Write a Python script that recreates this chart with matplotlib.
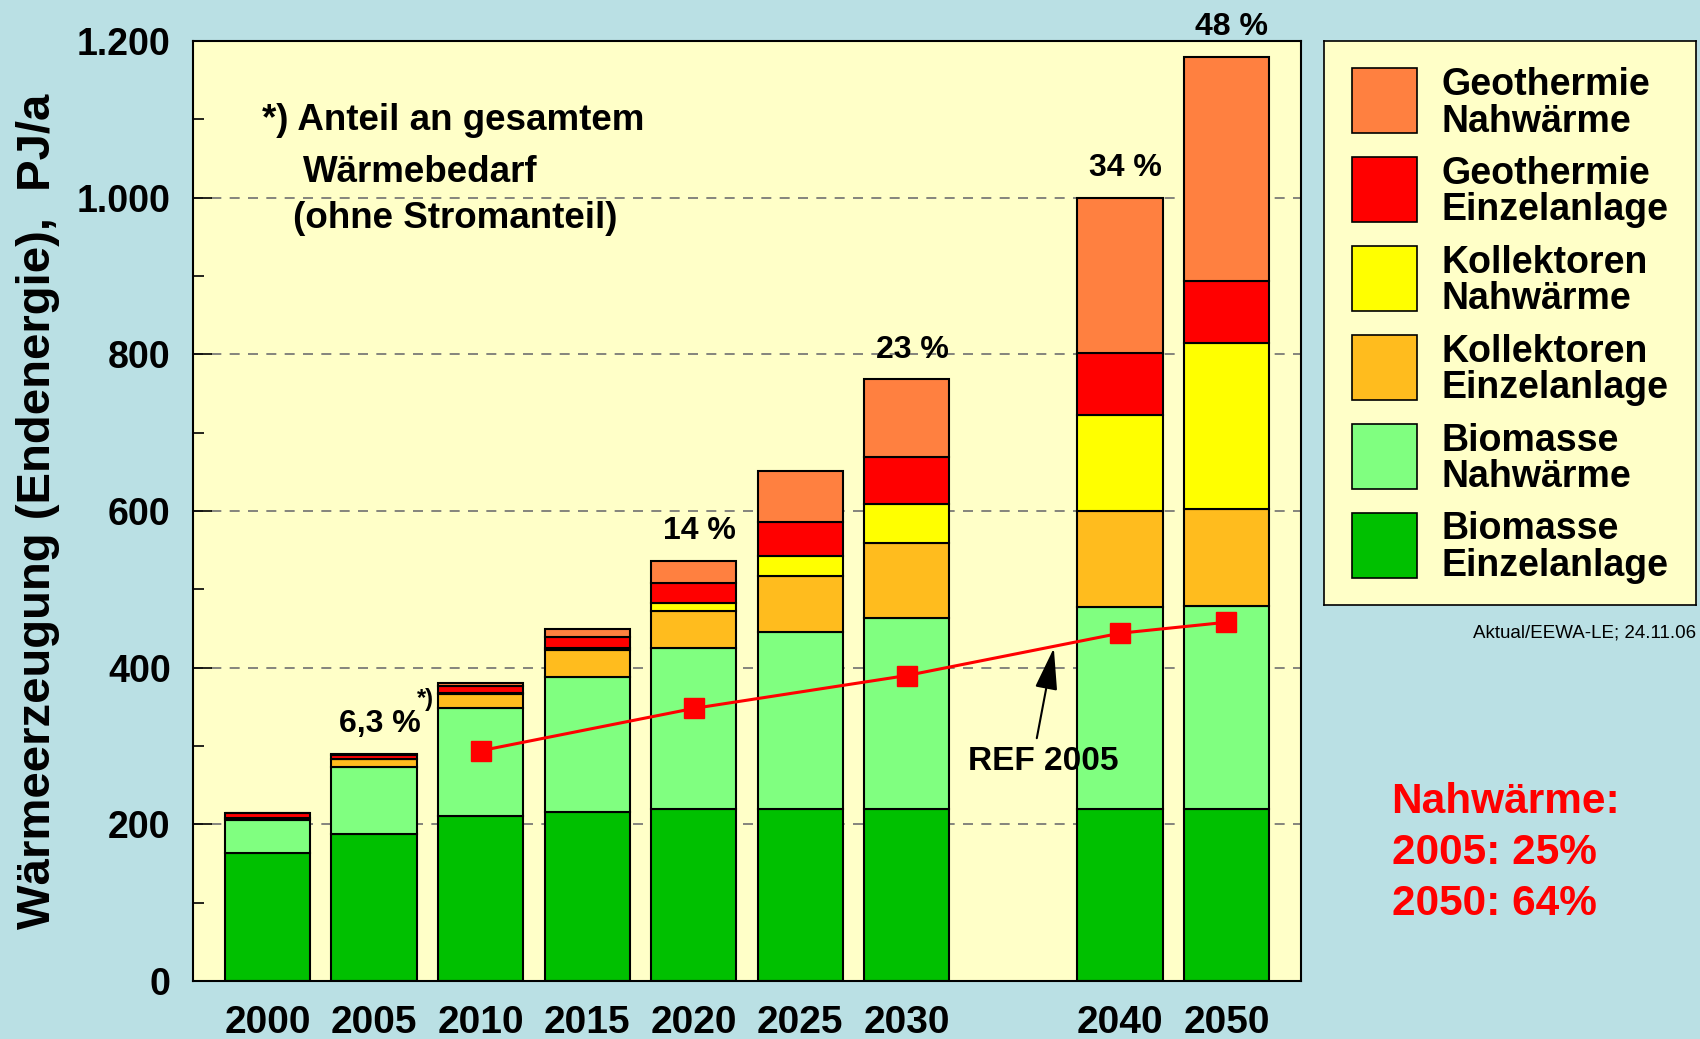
import matplotlib
matplotlib.use('Agg')
import matplotlib.pyplot as plt
from matplotlib.patches import Rectangle
from matplotlib.ticker import MultipleLocator

years = ['2000', '2005', '2010', '2015', '2020', '2025', '2030', '2040', '2050']
bio_einzel = [163, 188, 211, 216, 220, 220, 220, 220, 220]
bio_nah = [42, 85, 137, 172, 205, 225, 244, 257, 259]
koll_einzel = [3, 10, 19, 34, 48, 72, 95, 123, 123]
koll_nah = [0, 0, 1, 3, 10, 26, 50, 123, 213]
geo_einzel = [6, 6, 8, 14, 25, 43, 60, 79, 79]
geo_nah = [1, 1, 4, 11, 28, 65, 99, 198, 286]

series_names = ['Biomasse\nEinzelanlage', 'Biomasse\nNahwärme',
                'Kollektoren\nEinzelanlage', 'Kollektoren\nNahwärme',
                'Geothermie\nEinzelanlage', 'Geothermie\nNahwärme']
series_colors = ['#00C000', '#80FF80', '#FFBC1E', '#FFFF00', '#FF0000', '#FF8040']

ref_years = ['2010', '2020', '2030', '2040', '2050']
ref_values = [294, 348, 390, 444, 458]

share_years = ['2005', '2020', '2030', '2040', '2050']
share_labels = ['6,3 %', '14 %', '23 %', '34 %', '48 %']

y_ticks = [0, 200, 400, 600, 800, 1000, 1200]
y_ticklabels = ['0', '200', '400', '600', '800', '1.000', '1.200']

plt.rcParams['font.family'] = ['Liberation Sans', 'DejaVu Sans']
plt.rcParams['font.weight'] = 'bold'

fig = plt.figure(figsize=(17, 10.39), dpi=100)
fig.patch.set_facecolor('#BAE0E4')
ax = fig.add_axes([0.1135, 0.0558, 0.6518, 0.9047])
ax.set_facecolor('#FFFFC8')

# 2030 -> 2040 leaves one empty slot
xpos = [0, 1, 2, 3, 4, 5, 6, 8, 9]
series = [bio_einzel, bio_nah, koll_einzel, koll_nah, geo_einzel, geo_nah]
bottom = [0] * len(years)
for vals, col in zip(series, series_colors):
    ax.bar(xpos, vals, 0.8, bottom=bottom, color=col, edgecolor='black',
           linewidth=1.5, zorder=2)
    bottom = [b + v for b, v in zip(bottom, vals)]
totals = bottom

ref_x = [xpos[years.index(y)] for y in ref_years]
ax.plot(ref_x, ref_values, color='red', lw=2.2, marker='s', ms=15, zorder=3)

for y, lab in zip(share_years, share_labels):
    i = years.index(y)
    ax.text(xpos[i] + 0.05, totals[i] + 38, lab, ha='center', va='center',
            fontsize=23, fontweight='bold')
ax.text(1.48, 360, '*)', ha='center', va='center', fontsize=17, fontweight='bold')

ax.text(-0.056, 1086, '*) Anteil an gesamtem', fontsize=26.5, va='baseline')
ax.text(0.33, 1020, 'Wärmebedarf', fontsize=26.5, va='baseline')
ax.text(0.24, 961, '(ohne Stromanteil)', fontsize=26.5, va='baseline')

ax.text(7.28, 280, 'REF 2005', ha='center', va='center', fontsize=24, fontweight='bold')
ax.annotate('', xy=(7.38, 425), xytext=(7.22, 310),
            arrowprops=dict(arrowstyle='-|>,head_length=1.3,head_width=0.35',
                            mutation_scale=20, color='black', lw=1.5,
                            shrinkA=0, shrinkB=0))

ax.set_xlim(-0.7, 9.7)
ax.set_ylim(0, 1200)
ax.set_xticks(xpos, years)
ax.set_yticks(y_ticks, y_ticklabels)
ax.yaxis.set_minor_locator(MultipleLocator(100))
ax.tick_params(axis='y', which='major', direction='in', length=14, width=1.2,
               labelsize=27, pad=16)
ax.tick_params(axis='y', which='minor', direction='in', length=8, width=1.2)
ax.tick_params(axis='x', length=0, labelsize=28, pad=17)
ax.yaxis.grid(True, linestyle=(0, (6, 5)), color='#707070', lw=1.2)
ax.set_axisbelow(True)
for s in ax.spines.values():
    s.set_linewidth(1.5)
    s.set_color('black')

ax.set_ylabel('Wärmeerzeugung (Endenergie),  PJ/a', fontsize=34, fontweight='bold')
ax.yaxis.set_label_coords(-0.12, 0.5)

# legend box
lax = fig.add_axes([0.7788, 0.4177, 0.2188, 0.5428])
lax.set_facecolor('#FFFFC8')
lax.set_xlim(0, 1)
lax.set_ylim(0, 1)
lax.set_xticks([])
lax.set_yticks([])
for s in lax.spines.values():
    s.set_linewidth(1.2)
for k, (name, col) in enumerate(zip(series_names[::-1], series_colors[::-1])):
    top = 1 - 0.0484 - k * 0.1576
    lax.add_patch(Rectangle((0.0753, top - 0.1152), 0.1747, 0.1152,
                            facecolor=col, edgecolor='black', lw=1.2))
    lax.text(0.317, top - 0.062, name, va='center', ha='left',
             fontsize=27, fontweight='bold', linespacing=1.02)

fig.text(0.9976, 0.3908, 'Aktual/EEWA-LE; 24.11.06', ha='right', va='center',
         fontsize=13.5, fontweight='normal')

red_lines = ['Nahwärme:', '2005: 25%', '2050: 64%']
for k, line in enumerate(red_lines):
    fig.text(0.8186, 0.2172 - k * 0.049, line, color='red', fontsize=30.5,
             fontweight='bold', va='baseline')

fig.savefig('out.png', dpi=100, facecolor=fig.get_facecolor())
